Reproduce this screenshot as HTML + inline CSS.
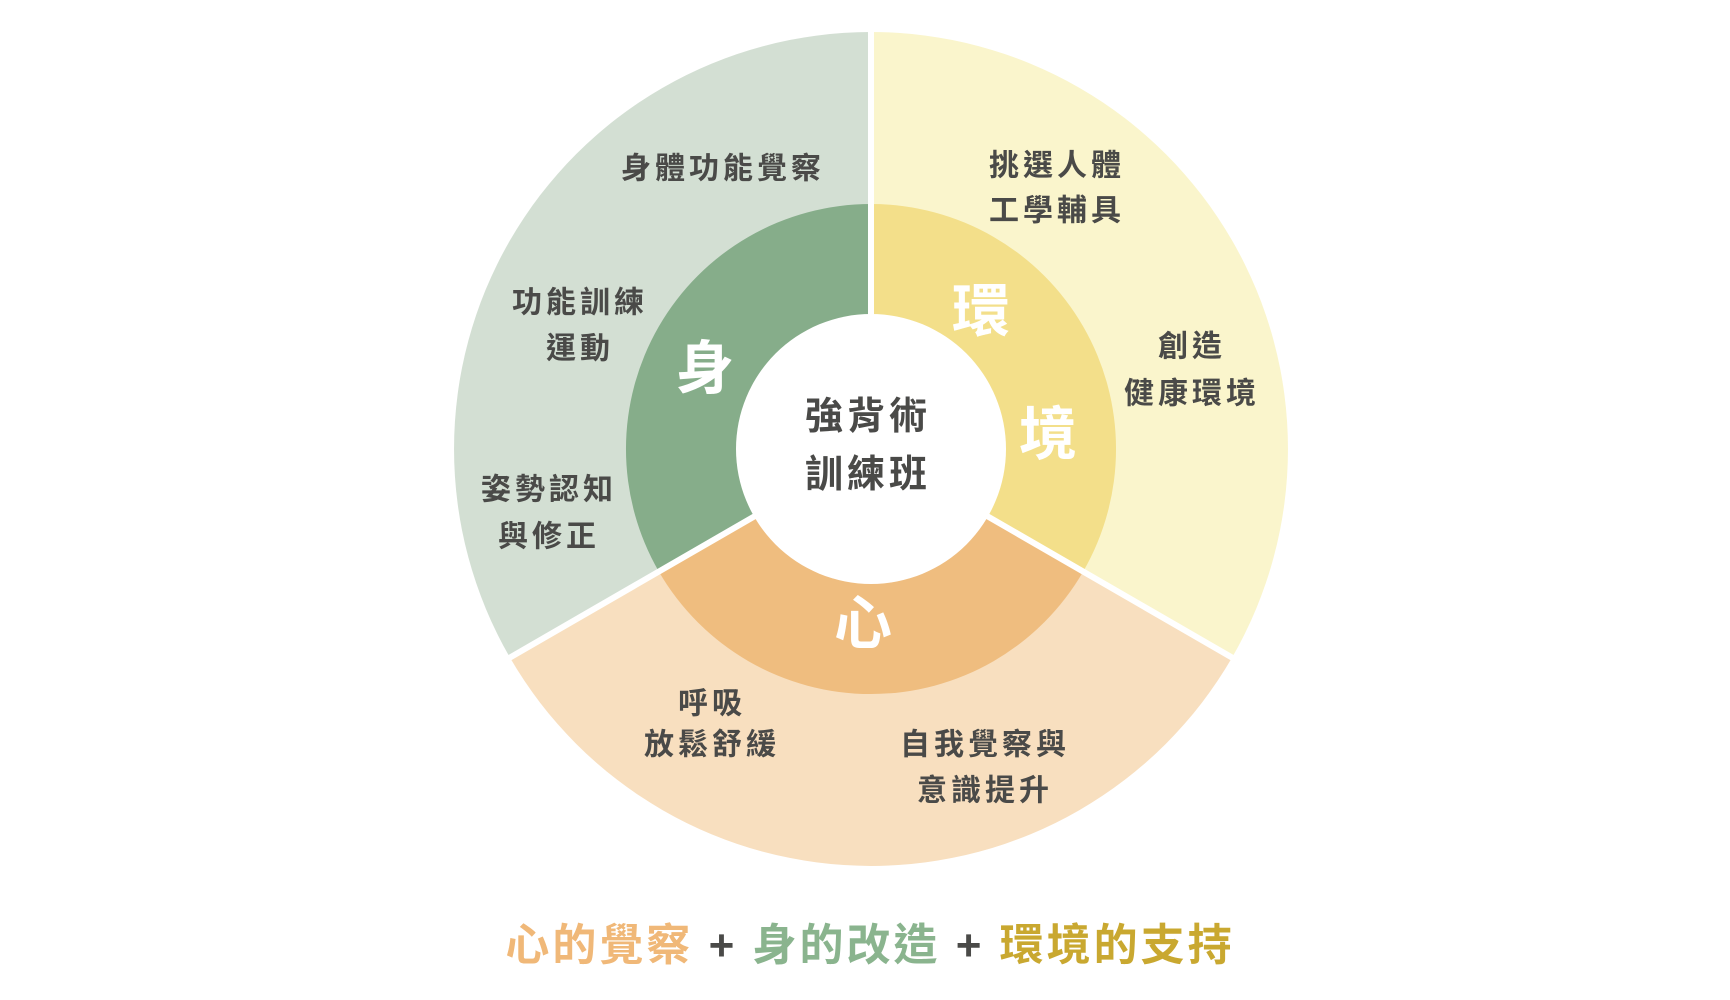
<!DOCTYPE html>
<html><head><meta charset="utf-8"><style>
html,body{margin:0;padding:0;background:#fff;}
svg{display:block;}
text{font-family:"Liberation Sans","Noto Sans CJK TC",sans-serif;font-weight:bold;text-anchor:middle;dominant-baseline:central;}
.l{font-size:30px;fill:#4a4a48;letter-spacing:4px;}
.big{font-size:58px;fill:#fff;}
</style></head><body>
<svg width="1730" height="1000" viewBox="0 0 1730 1000">
<path d="M871 449 L871 32 A417 417 0 0 1 1232.1 657.5 Z" fill="#faf5cc"/>
<path d="M871 449 L1232.1 657.5 A417 417 0 0 1 509.9 657.5 Z" fill="#f8dfbf"/>
<path d="M871 449 L509.9 657.5 A417 417 0 0 1 871 32 Z" fill="#d3dfd3"/>
<path d="M871 449 L871 204 A245 245 0 0 1 1083.2 571.5 Z" fill="#f3df8a"/>
<path d="M871 449 L1083.2 571.5 A245 245 0 0 1 658.8 571.5 Z" fill="#efbd7f"/>
<path d="M871 449 L658.8 571.5 A245 245 0 0 1 871 204 Z" fill="#86ad8a"/>
<g stroke="#fff" stroke-width="6">
<line x1="871" y1="449" x2="871" y2="26"/>
<line x1="871" y1="449" x2="1238" y2="661"/>
<line x1="871" y1="449" x2="504" y2="661"/>
</g>
<circle cx="871" cy="449" r="135" fill="#fff"/>
<text class="l" x="868" y="417" style="font-size:38px">強背術</text>
<text class="l" x="868" y="475" style="font-size:38px">訓練班</text>
<text class="big" x="705" y="369">身</text>
<text class="big" x="981" y="312">環</text>
<text class="big" x="1048" y="435">境</text>
<text class="big" x="863" y="624">心</text>
<text class="l" x="723" y="169">身體功能覺察</text>
<text class="l" x="1057" y="166">挑選人體</text>
<text class="l" x="1057" y="211">工學輔具</text>
<text class="l" x="580" y="303">功能訓練</text>
<text class="l" x="580" y="349">運動</text>
<text class="l" x="1192" y="347">創造</text>
<text class="l" x="1192" y="394">健康環境</text>
<text class="l" x="549" y="490">姿勢認知</text>
<text class="l" x="549" y="537">與修正</text>
<text class="l" x="712" y="704">呼吸</text>
<text class="l" x="712" y="745">放鬆舒緩</text>
<text class="l" x="985" y="745">自我覺察與</text>
<text class="l" x="985" y="791">意識提升</text>
<text x="870" y="945" style="font-size:44px;letter-spacing:3px">
<tspan fill="#f0b878">心的覺察</tspan><tspan fill="#4a4a48"> + </tspan><tspan fill="#8ab48e">身的改造</tspan><tspan fill="#4a4a48"> + </tspan><tspan fill="#c9a830">環境的支持</tspan></text>
</svg>
</body></html>
